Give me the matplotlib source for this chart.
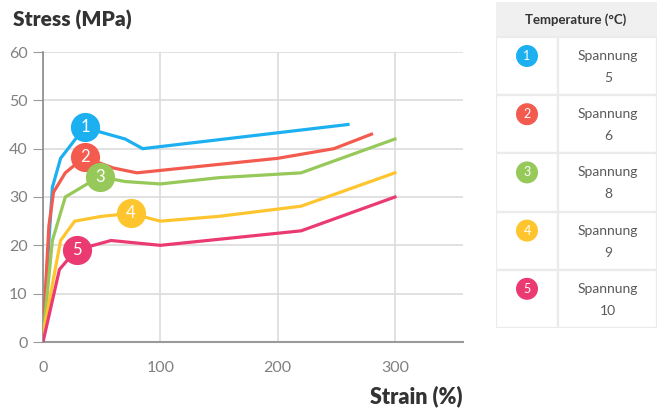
import matplotlib.pyplot as plt
from matplotlib.patches import Rectangle, Circle

# Daten
strain_1 = [0, 8, 15, 35, 48, 70, 85, 260]
stress_1 = [2, 32, 38, 44.3, 43.5, 42, 40, 45]
strain_2 = [0, 5, 9, 19, 35, 60, 80, 200, 248, 280]
stress_2 = [1, 24, 31, 35, 38.2, 36, 35, 38, 40, 43]
strain_3 = [0, 8, 19, 48, 70, 100, 150, 220, 300]
stress_3 = [1, 21, 30, 34.2, 33.2, 32.7, 34, 35, 42]
strain_4 = [0, 15, 27, 50, 75, 100, 150, 220, 300]
stress_4 = [1.5, 21, 25, 26, 26.6, 25, 26, 28.1, 35]
strain_5 = [0, 14, 28, 58, 100, 220, 300]
stress_5 = [0, 15, 19, 21, 20, 23, 30]

label_x = [36, 36, 49, 75, 29]
label_y = [44.5, 38.3, 34.2, 26.7, 19.0]
labels = ['1', '2', '3', '4', '5']
spannung = ['5', '6', '8', '9', '10']
colors = ['#1DB0F1', '#F45B4F', '#97C85A', '#FEC52E', '#EB3A72']

xticks = [0, 100, 200, 300]
yticks = [0, 10, 20, 30, 40, 50, 60]

plt.rcParams['font.family'] = ['Lato', 'DejaVu Sans']

fig = plt.figure(figsize=(6.57, 4.08), dpi=100)
ax = fig.add_axes([43 / 657, 66 / 408, 420 / 657, 290 / 408])

series = [(strain_1, stress_1), (strain_2, stress_2), (strain_3, stress_3),
          (strain_4, stress_4), (strain_5, stress_5)]
for (sx, sy), c in zip(series, colors):
    ax.plot(sx, sy, color=c, lw=2.3, solid_joinstyle='miter', zorder=3)

# nummerierte Kreise
for lx, ly, lab, c in zip(label_x, label_y, labels, colors):
    ax.plot(lx, ly, 'o', ms=21, color=c, mec='none', zorder=5)
    ax.text(lx, ly, lab, color='white', fontsize=12, ha='center', va='center', zorder=6)

ax.set_xlim(0, 358)
ax.set_ylim(0, 60)
ax.set_xticks(xticks)
ax.set_yticks(yticks)
ax.set_xticks([0], minor=True)
ax.grid(True, color='#dcdcdc', lw=1.2)
ax.set_axisbelow(True)
for s in ['top', 'right']:
    ax.spines[s].set_visible(False)
ax.spines['left'].set_color('#8a8a8a')
ax.spines['bottom'].set_color('#9a9a9a')
ax.spines['left'].set_linewidth(1.2)
ax.spines['bottom'].set_linewidth(1.5)
ax.tick_params(axis='y', length=7, color='#9a9a9a', labelcolor='#808080', labelsize=11.5, pad=4)
ax.tick_params(axis='x', which='major', length=0, labelcolor='#808080', labelsize=11.5, pad=14)
ax.tick_params(axis='x', which='minor', length=6, color='#9a9a9a')

fig.text(13 / 657, 1 - 27 / 408, 'Stress (MPa)', fontsize=15, fontweight='heavy', color='#333333')
fig.text(463 / 657, 1 - 403 / 408, 'Strain (%)', fontsize=15.5, fontweight='heavy', color='#333333',
         ha='right')

# Tabelle rechts
tab = fig.add_axes([496 / 657, 80 / 408, 161 / 657, 326 / 408])
tab.set_xlim(0, 161)
tab.set_ylim(326, 0)
tab.axis('off')
edge = '#ebebeb'
tab.add_patch(Rectangle((0, 0), 161, 35, facecolor='#f0f0f0', edgecolor='none'))
tab.text(80, 18, 'Temperature (°C)', fontsize=9.5, fontweight='bold', color='#333333',
         ha='center', va='center')
row_h = 58.2
for i, (lab, sp, c) in enumerate(zip(labels, spannung, colors)):
    y0 = 35 + i * row_h
    tab.add_patch(Rectangle((0, y0), 62, row_h, facecolor='white', edgecolor=edge, lw=1.6))
    tab.add_patch(Rectangle((62, y0), 99, row_h, facecolor='white', edgecolor=edge, lw=1.6))
    tab.add_patch(Circle((31, y0 + 19), 10.3, color=c))
    tab.text(31, y0 + 19, lab, color='white', fontsize=9, ha='center', va='center')
    tab.text(112, y0 + 19, 'Spannung', color='#5a5a5a', fontsize=10, ha='center', va='center')
    tab.text(112, y0 + 41, sp, color='#5a5a5a', fontsize=10, ha='center', va='center')

fig.savefig('out.png', dpi=100)
